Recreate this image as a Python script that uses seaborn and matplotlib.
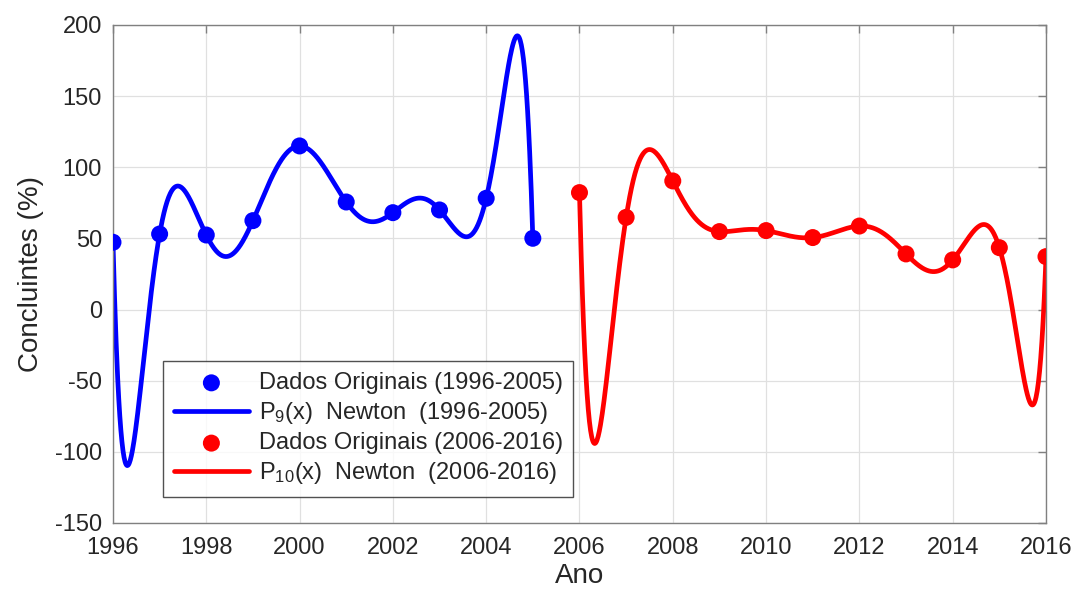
import numpy as np
import matplotlib
matplotlib.use("Agg")
import matplotlib.pyplot as plt
import seaborn as sns

# Graduates (%) per year, two periods
anos_1 = [1996, 1997, 1998, 1999, 2000, 2001, 2002, 2003, 2004, 2005]
concl_1 = [47.3, 53.1, 52.4, 62.5, 115.0, 75.6, 68.1, 70.0, 78.2, 50.1]
anos_2 = [2006, 2007, 2008, 2009, 2010, 2011, 2012, 2013, 2014, 2015, 2016]
concl_2 = [82.2, 64.8, 90.4, 54.8, 55.5, 50.6, 58.7, 39.1, 34.9, 43.5, 37.2]

x_ticks = list(range(1996, 2017, 2))
y_ticks = list(range(-150, 201, 50))


def newton_coefs(x, y):
    """Divided-difference coefficients of the Newton interpolating polynomial."""
    x = np.asarray(x, float)
    c = np.asarray(y, float).copy()
    n = len(x)
    for j in range(1, n):
        c[j:] = (c[j:] - c[j - 1:-1]) / (x[j:] - x[:n - j])
    return c


def newton_eval(coefs, x_nodes, t):
    x_nodes = np.asarray(x_nodes, float)
    p = np.full_like(t, coefs[-1], dtype=float)
    for k in range(len(coefs) - 2, -1, -1):
        p = p * (t - x_nodes[k]) + coefs[k]
    return p


t1 = np.linspace(anos_1[0], anos_1[-1], 800)
t2 = np.linspace(anos_2[0], anos_2[-1], 800)
p1 = newton_eval(newton_coefs(anos_1, concl_1), anos_1, t1)
p2 = newton_eval(newton_coefs(anos_2, concl_2), anos_2, t2)

sns.set_style("white")
plt.rcParams["font.family"] = ["Liberation Sans", "DejaVu Sans"]
plt.rcParams["mathtext.fontset"] = "custom"
plt.rcParams["mathtext.rm"] = "Liberation Sans"
plt.rcParams["axes.unicode_minus"] = False

fig = plt.figure(figsize=(10.78, 5.91), dpi=100)
ax = fig.add_axes([0.1048, 0.1151, 0.8655, 0.8426])

sns.scatterplot(x=anos_1, y=concl_1, ax=ax, color="#0000ff", s=150,
                edgecolor="none", label="Dados Originais (1996-2005)", zorder=3)
sns.lineplot(x=t1, y=p1, ax=ax, color="#0000ff", linewidth=3.4,
             label=r"P$\mathregular{_9}$(x)  Newton  (1996-2005)", zorder=2)
sns.scatterplot(x=anos_2, y=concl_2, ax=ax, color="#ff0000", s=150,
                edgecolor="none", label="Dados Originais (2006-2016)", zorder=3)
sns.lineplot(x=t2, y=p2, ax=ax, color="#ff0000", linewidth=3.4,
             label=r"P$\mathregular{_{10}}$(x)  Newton  (2006-2016)", zorder=2)

ax.set_xlim(1996, 2016)
ax.set_ylim(-150, 200)
ax.set_xticks(x_ticks)
ax.set_yticks(y_ticks)
ax.grid(True, color="#e0e0e0", linewidth=0.9)
ax.set_axisbelow(True)
for s in ax.spines.values():
    s.set_color("#808080")
    s.set_linewidth(1.0)
ax.tick_params(axis="both", direction="in", length=6, width=1.0,
               color="#808080", labelsize=17, labelcolor="#262626",
               top=True, right=True)
ax.tick_params(axis="x", pad=10)
ax.tick_params(axis="y", pad=8)
ax.set_xlabel("Ano", fontsize=20, color="#262626", labelpad=3)
ax.set_ylabel("Concluintes (%)", fontsize=20, color="#262626", labelpad=8)

leg = ax.legend(loc="lower left", bbox_to_anchor=(0.0536, 0.052),
                borderaxespad=0, fontsize=17, frameon=True, fancybox=False,
                edgecolor="#262626", handlelength=3.2, handletextpad=0.4,
                labelspacing=0.26, borderpad=0.45, markerscale=1.0)
leg.get_frame().set_linewidth(1.0)
for txt in leg.get_texts():
    txt.set_color("#262626")

fig.savefig("out.png", dpi=100)
